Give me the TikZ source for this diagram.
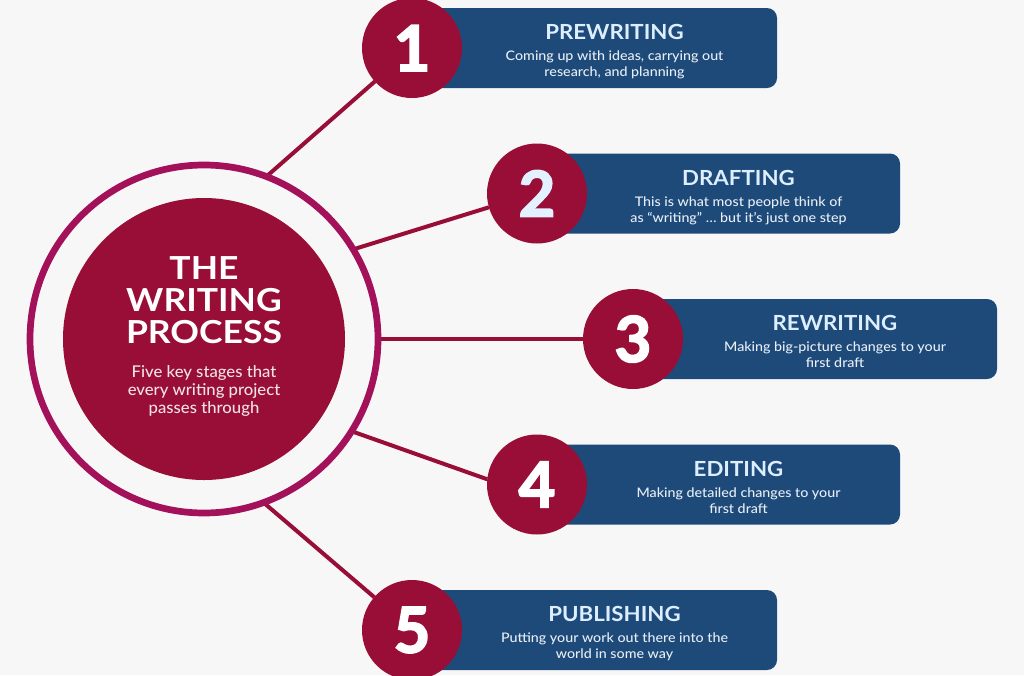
\documentclass[tikz,border=0pt]{standalone}
\usepackage{fontspec}
\setmainfont{Lato}
\IfFontExistsTF{Lato Medium}
  {\newfontfamily\descfont{Lato Medium}[FakeStretch=1.08]
   \newfontfamily\subfont{Lato Medium}[FakeStretch=1.03]}
  {\newfontfamily\descfont{Lato}[FakeStretch=1.1]
   \newfontfamily\subfont{Lato}[FakeStretch=1.05]}
\newfontfamily\numfont{Lato}[FakeBold=3]
\newfontfamily\headfont{Lato}[FakeStretch=1.07]
\newfontfamily\bigfont{Lato}[FakeStretch=1.12]
\definecolor{bgc}{HTML}{F7F7F7}
\definecolor{ringc}{HTML}{A3115A}
\definecolor{crimson}{HTML}{980E36}
\definecolor{navy}{HTML}{1E4A7A}
\definecolor{titleblue}{HTML}{DDEEFF}
\definecolor{desccol}{HTML}{E8EEF6}
\definecolor{subcol}{HTML}{F2E2E7}
\definecolor{lightdigit}{HTML}{E2F0FF}
\pgfdeclarelayer{bg}
\pgfdeclarelayer{links}
\pgfsetlayers{bg,links,main}
\tikzset{
  stagebox/.style={fill=navy, rounded corners=10pt, inner sep=0pt, outer sep=0pt},
  numcirc/.style={circle, fill=crimson, minimum size=100pt, inner sep=0pt, outer sep=0pt,
    font=\numfont\fontsize{63}{63}\selectfont\bfseries},
  link/.style={draw=crimson, line width=4pt},
  titletext/.style={anchor=base, inner sep=0pt, text=titleblue, font=\headfont\fontsize{20.8}{20.8}\selectfont\bfseries},
  desctext/.style={anchor=base, inner sep=0pt, text=desccol, font=\descfont\fontsize{13.2}{13.2}\selectfont},
  bigtitle/.style={anchor=base, inner sep=0pt, text=white, font=\bigfont\fontsize{31.7}{31.7}\selectfont\bfseries},
  subtext/.style={anchor=base, inner sep=0pt, text=subcol, font=\subfont\fontsize{16.2}{16.2}\selectfont},
}
\newcommand{\mystage}[9]{%
  \begin{pgfonlayer}{bg}
    \node[stagebox, anchor=west, minimum width={#4pt-#2pt}, minimum height=80pt] (box#1) at (#2,#3) {};
  \end{pgfonlayer}
  \node[numcirc, text=#6] (n#1) at (#2,#3) {#5};
  \node[titletext] (t#1) at ({(#2+#4)/2+20},{#3-8.5}) {#7};
  \node[desctext] (da#1) at ({(#2+#4)/2+20},{#3+12.8}) {#8};
  \node[desctext] (db#1) at ({(#2+#4)/2+20},{#3+28.8}) {#9};
}
\begin{document}
\begin{tikzpicture}[x=1pt,y=-1pt]
\begin{pgfonlayer}{bg}
  \fill[bgc] (0,0) rectangle (1024,675);
\end{pgfonlayer}
\useasboundingbox (0,0) rectangle (1024,675);

% central circle
\node[circle, draw=ringc, line width=6.7pt, minimum size=348pt, inner sep=0pt, outer sep=0pt] (ring) at (204,339) {};
\node[circle, fill=crimson, minimum size=282pt, inner sep=0pt, outer sep=0pt] (core) at (204,339) {};
\node[bigtitle] (th) at (204,279.3) {THE};
\node[bigtitle] (wr) at (204,311.5) {WRITING};
\node[bigtitle] (pr) at (204,343.3) {PROCESS};
\node[subtext] (s1) at (204,377) {Five key stages that};
\node[subtext] (s2) at (204,395) {every writing project};
\node[subtext] (s3) at (204,413) {passes through};

% stages
\mystage{1}{412}{48}{777}{1}{white}{PREWRITING}{Coming up with ideas, carrying out}{research, and planning}
\mystage{2}{537}{193.5}{900}{2}{lightdigit}{DRAFTING}{This is what most people think of}{as “writing” … but it’s just one step}
\mystage{3}{633}{339}{997}{3}{white}{REWRITING}{Making big-picture changes to your}{first draft}
\mystage{4}{537}{484.5}{900}{4}{white}{EDITING}{Making detailed changes to your}{first draft}
\mystage{5}{412}{630}{777}{5}{white}{PUBLISHING}{Putting your work out there into the}{world in some way}

% connectors
\begin{pgfonlayer}{links}
  \draw[link] (ring.69.5) -- (n1.222);
  \draw[link] (ring.31.7) -- (n2.196);
  \draw[link] (ring.0) -- (n3.180);
  \draw[link] (ring.-32.7) -- (n4.174);
  \draw[link] (ring.-70.5) -- (n5.139);
\end{pgfonlayer}
\end{tikzpicture}
\end{document}
